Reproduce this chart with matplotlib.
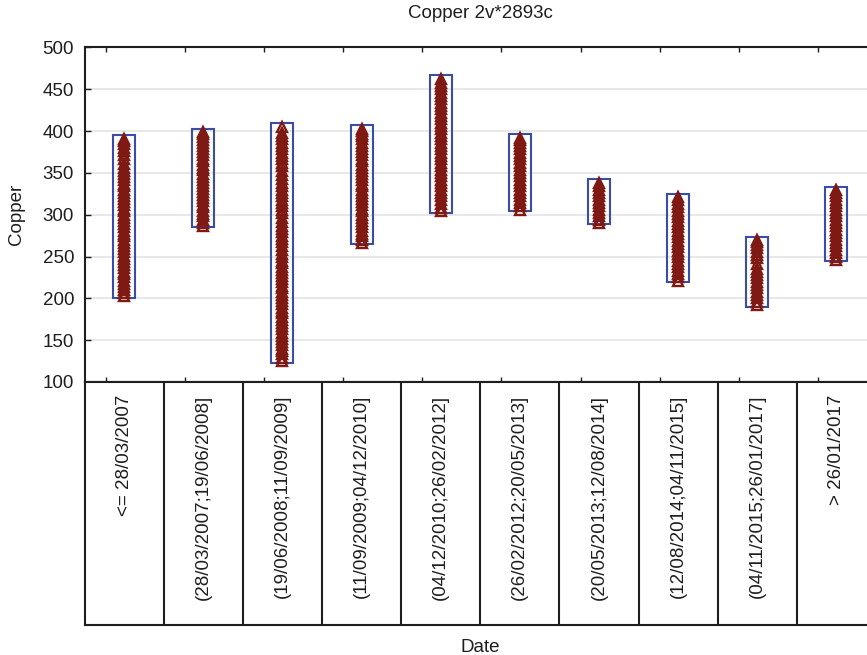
import matplotlib
matplotlib.use("Agg")
import matplotlib.pyplot as plt
from matplotlib.patches import Rectangle

plt.rcParams['font.family'] = ['Liberation Sans', 'DejaVu Sans']

labels = ["<= 28/03/2007", "(28/03/2007;19/06/2008]", "(19/06/2008;11/09/2009]",
          "(11/09/2009;04/12/2010]", "(04/12/2010;26/02/2012]", "(26/02/2012;20/05/2013]",
          "(20/05/2013;12/08/2014]", "(12/08/2014;04/11/2015]", "(04/11/2015;26/01/2017]",
          "> 26/01/2017"]

# min / max of each group (the blue boxes)
box_min = [200.5, 285.0, 122.8, 264.4, 302.2, 304.0, 288.7, 219.3, 190.0, 244.4]
box_max = [395.0, 402.7, 409.2, 407.2, 467.0, 396.0, 342.5, 325.0, 273.0, 333.4]

# copper readings per date group
g1 = [203, 206, 210, 214, 217, 221, 225, 229, 232, 236, 240, 244, 247, 251, 255, 259,
      262, 266, 270, 274, 277, 281, 285, 289, 292, 296, 300, 304, 307, 311, 315, 319,
      322, 326, 330, 334, 337, 341, 345, 349, 352, 356, 361, 366, 371, 376, 380, 384,
      388, 391]
g2 = [287, 290, 294, 298, 301, 305, 309, 312, 316, 320, 323, 327, 331, 334, 338, 342,
      345, 349, 353, 356, 360, 364, 367, 371, 375, 378, 382, 386, 389, 393, 396, 399]
g3 = [125, 129, 133, 137, 140, 144, 148, 152, 155, 159, 163, 167, 170, 174, 178, 182,
      185, 189, 193, 197, 200, 204, 208, 212, 215, 219, 223, 227, 230, 234, 238, 242,
      245, 249, 253, 258, 263, 267, 271, 275, 279, 283, 287, 291, 296, 302, 306, 310,
      314, 318, 322, 326, 330, 334, 338, 343, 347, 352, 358, 362, 366, 370, 374, 378,
      382, 386, 390, 394, 398, 405]
g4 = [266, 270, 274, 277, 281, 285, 289, 292, 296, 300, 304, 307, 311, 315, 319, 322,
      326, 330, 334, 337, 341, 345, 349, 352, 356, 360, 364, 367, 371, 375, 379, 382,
      386, 390, 394, 397, 400, 403]
g5 = [304, 308, 313, 318, 322, 326, 330, 334, 338, 342, 346, 350, 354, 358, 362, 366,
      370, 374, 378, 382, 386, 390, 394, 398, 402, 406, 410, 414, 418, 422, 426, 430,
      434, 438, 442, 446, 450, 454, 458, 462]
g6 = [306, 310, 314, 318, 322, 326, 330, 334, 338, 342, 346, 350, 354, 358, 362, 366,
      370, 374, 378, 382, 386, 389, 392]
g7 = [290, 294, 298, 302, 306, 310, 314, 318, 322, 326, 330, 334, 338]
g8 = [221, 225, 229, 233, 237, 241, 245, 249, 253, 257, 261, 265, 269, 273, 277, 281,
      285, 289, 293, 297, 301, 305, 309, 313, 317, 321]
g9 = [192, 196, 200, 204, 208, 212, 216, 220, 224, 228, 232, 235, 241, 248, 252, 256,
      260, 264, 267, 270]
g10 = [246, 250, 254, 258, 262, 266, 270, 274, 278, 282, 286, 290, 294, 298, 302, 306,
       310, 314, 318, 322, 326, 329]
groups = [g1, g2, g3, g4, g5, g6, g7, g8, g9, g10]

red = '#7f1914'
blue = '#3a4da6'
dark = '#1e1e1e'
fs = 13.5

fig = plt.figure(figsize=(8.67, 6.55), dpi=100)
W, H = 867.0, 655.0
left = 84.5 / W
width = 791.5 / W
top_main = (H - 47.4) / H
bot_main = (H - 382.0) / H
bot_tab = (H - 625.0) / H

ax = fig.add_axes([left, bot_main, width, top_main - bot_main])
n = len(labels)
for i, vals in enumerate(groups):
    ax.add_patch(Rectangle((i - 0.139, box_min[i]), 0.278, box_max[i] - box_min[i],
                           fill=False, ec=blue, lw=1.5, zorder=2))
    ax.plot([i] * len(vals), vals, ls='none', marker='^', ms=7.3, mfc='none',
            mec=red, mew=1.7, zorder=3)

ax.set_xlim(-0.5, n - 0.5)
ax.set_ylim(100, 500)
ax.set_yticks(range(100, 501, 50))
ax.set_xticks([i - 0.232 for i in range(n)])
ax.set_xticklabels([])
ax.tick_params(axis='y', direction='in', length=4.5, width=1.0, color=dark,
               labelsize=fs, pad=7.5, labelcolor=dark)
ax.tick_params(axis='x', direction='in', length=3.6, width=1.0, color=dark,
               top=True, bottom=True)
ax.yaxis.grid(True, color='#e4e4e4', lw=1.2)
ax.set_axisbelow(True)
for s in ['top', 'left', 'bottom']:
    ax.spines[s].set_linewidth(1.5)
    ax.spines[s].set_color(dark)
ax.spines['right'].set_visible(False)

# table of category labels under the plot
tab = fig.add_axes([left, bot_tab, width, bot_main - bot_tab])
tab.set_xlim(-0.5, n - 0.5)
tab.set_ylim(0, 1)
tab.set_xticks([])
tab.set_yticks([])
for s in ['top', 'left', 'bottom']:
    tab.spines[s].set_linewidth(1.5)
    tab.spines[s].set_color(dark)
tab.spines['right'].set_visible(False)
for i in range(n - 1):
    tab.axvline(i + 0.5, color=dark, lw=1.5)
for i, lab in enumerate(labels):
    tab.text(i, 1 - 13 / 243.0, lab, rotation=90, ha='center', va='top',
             fontsize=fs, color=dark)

fig.text(480 / W, 1 - 13 / H, 'Copper 2v*2893c', ha='center', va='center',
         fontsize=fs, color=dark)
fig.text(480 / W, 8 / H, 'Date', ha='center', va='center', fontsize=fs, color=dark)
fig.text(17 / W, (H - 214.5) / H, 'Copper', ha='center', va='center', rotation=90,
         fontsize=fs, color=dark)

fig.savefig('out.png', dpi=100)
